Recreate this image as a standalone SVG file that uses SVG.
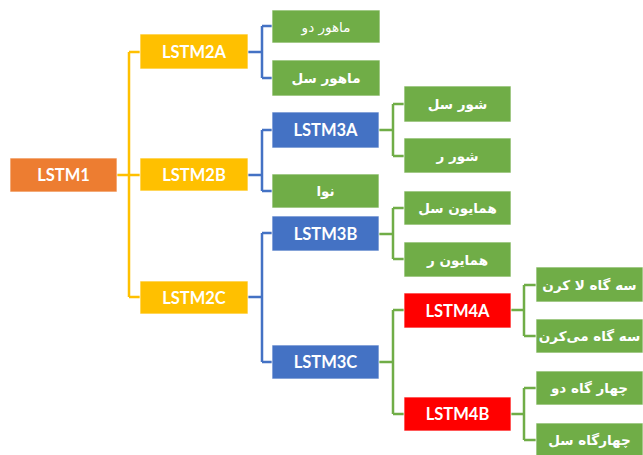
<svg xmlns="http://www.w3.org/2000/svg" width="643" height="455" viewBox="0 0 643 455">
  <style>
    .box { stroke: #ffffff; stroke-width: 1; stroke-opacity: 0.7; }
    .orange { fill: #ED7D31; }
    .yellow { fill: #FFC000; }
    .blue { fill: #4472C4; }
    .green { fill: #70AD47; }
    .red { fill: #FF0000; }
    .lbl { fill: #ffffff; font-family: Lato, "Liberation Sans", sans-serif; font-weight: 700; font-size: 16.5px; text-anchor: middle; dominant-baseline: central; }
    .fa { fill: #ffffff; font-family: "DejaVu Sans", "Noto Sans", sans-serif; font-weight: 700; font-size: 13.5px; text-anchor: middle; dominant-baseline: central; direction: rtl; }
    .fa.thin { font-weight: 400; }
    .conn { fill: none; stroke-width: 2.5; stroke-linejoin: miter; }
    .cy { stroke: #FFC000; }
    .cb { stroke: #4472C4; }
    .cg { stroke: #70AD47; }
  </style>

  <!-- connectors -->
  <g id="connectors">
    <path class="conn cy" d="M117,175 H140 M129,52 V297 M129,52 H140 M129,297 H140"/>
    <path class="conn cb" d="M248,52 H262 M262,26 V78 M262,26 H272 M262,78 H272"/>
    <path class="conn cb" d="M248,175 H262 M262,130 V191 M262,130 H272 M262,191 H272"/>
    <path class="conn cb" d="M248,297 H262 M262,233 V362 M262,233 H272 M262,362 H272"/>
    <path class="conn cg" d="M379,130 H393 M393,104 V156 M393,104 H404 M393,156 H404"/>
    <path class="conn cg" d="M379,234 H393 M393,208 V259 M393,208 H404 M393,259 H404"/>
    <path class="conn cg" d="M379,362 H393 M393,310 V414 M393,310 H404 M393,414 H404"/>
    <path class="conn cg" d="M511,310 H524 M524,285 V336 M524,285 H536 M524,336 H536"/>
    <path class="conn cg" d="M511,414 H524 M524,388 V440 M524,388 H536 M524,440 H536"/>
  </g>

  <g id="lstm1">
    <rect class="box orange" x="10" y="158" width="107" height="34"/>
    <text class="lbl" x="63.5" y="175">LSTM1</text>
  </g>

  <g id="lstm2a">
    <rect class="box yellow" x="140" y="34" width="108" height="35"/>
    <text class="lbl" x="194" y="51.5">LSTM2A</text>
  </g>
  <g id="lstm2b">
    <rect class="box yellow" x="140" y="158" width="108" height="33"/>
    <text class="lbl" x="194" y="174.5">LSTM2B</text>
  </g>
  <g id="lstm2c">
    <rect class="box yellow" x="140" y="281" width="108" height="33"/>
    <text class="lbl" x="194" y="297.5">LSTM2C</text>
  </g>

  <g id="mahour-do">
    <rect class="box green" x="272" y="10" width="108" height="33"/>
    <text class="fa thin" x="326" y="26.5">ماهور دو</text>
  </g>
  <g id="mahour-sol">
    <rect class="box green" x="272" y="60" width="108" height="36"/>
    <text class="fa" x="326" y="78">ماهور سل</text>
  </g>

  <g id="lstm3a">
    <rect class="box blue" x="272" y="112" width="107" height="36"/>
    <text class="lbl" x="325.5" y="130">LSTM3A</text>
  </g>
  <g id="nava">
    <rect class="box green" x="272" y="174" width="107" height="34"/>
    <text class="fa" x="325.5" y="191">نوا</text>
  </g>
  <g id="lstm3b">
    <rect class="box blue" x="272" y="216" width="107" height="35"/>
    <text class="lbl" x="325.5" y="233.5">LSTM3B</text>
  </g>
  <g id="lstm3c">
    <rect class="box blue" x="272" y="345" width="107" height="34"/>
    <text class="lbl" x="325.5" y="362">LSTM3C</text>
  </g>

  <g id="shour-sol">
    <rect class="box green" x="404" y="86" width="107" height="36"/>
    <text class="fa" x="457.5" y="104">شور سل</text>
  </g>
  <g id="shour-re">
    <rect class="box green" x="404" y="138" width="107" height="35"/>
    <text class="fa" x="457.5" y="155.5">شور ر</text>
  </g>
  <g id="homayoun-sol">
    <rect class="box green" x="404" y="191" width="107" height="34"/>
    <text class="fa" x="457.5" y="208">همایون سل</text>
  </g>
  <g id="homayoun-re">
    <rect class="box green" x="404" y="242" width="107" height="35"/>
    <text class="fa" x="457.5" y="259.5">همایون ر</text>
  </g>

  <g id="lstm4a">
    <rect class="box red" x="404" y="293" width="107" height="35"/>
    <text class="lbl" x="457.5" y="310.5">LSTM4A</text>
  </g>
  <g id="lstm4b">
    <rect class="box red" x="404" y="397" width="107" height="34"/>
    <text class="lbl" x="457.5" y="414">LSTM4B</text>
  </g>

  <g id="segah-la-koron">
    <rect class="box green" x="536" y="267" width="107" height="35"/>
    <text class="fa" x="589.5" y="284.5">سه گاه لا کرن</text>
  </g>
  <g id="segah-mi-koron">
    <rect class="box green" x="536" y="319" width="107" height="34"/>
    <text class="fa" x="589.5" y="336">سه گاه می‌کرن</text>
  </g>
  <g id="chahargah-do">
    <rect class="box green" x="536" y="371" width="107" height="34"/>
    <text class="fa" x="589.5" y="388">چهار گاه دو</text>
  </g>
  <g id="chahargah-sol">
    <rect class="box green" x="536" y="423" width="107" height="34"/>
    <text class="fa" x="589.5" y="440">چهارگاه سل</text>
  </g>
</svg>
